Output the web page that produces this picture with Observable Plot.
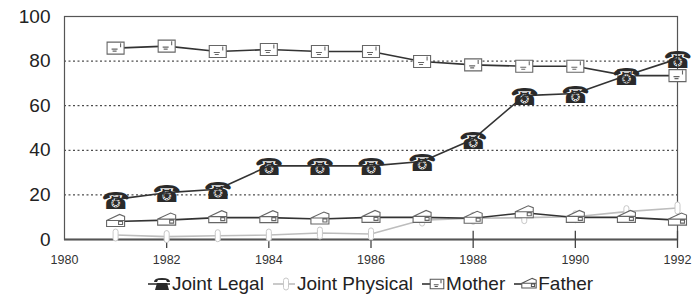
<!DOCTYPE html>
<html><head><meta charset="utf-8">
<script src="https://cdn.jsdelivr.net/npm/d3@7"></script>
<script src="https://cdn.jsdelivr.net/npm/@observablehq/plot@0.6"></script>
<style>
body{margin:0;background:#fff;font-family:"Liberation Sans",Arial,sans-serif;}
#legend{display:flex;justify-content:flex-start;gap:9px;font-size:19px;color:#222;height:27px;align-items:center;padding-left:148px;}
#legend span.it{display:flex;align-items:center;}
#legend svg{display:block;margin-right:1px;overflow:visible;}
</style></head>
<body><div id="chart"></div>
<div id="legend"></div>
<script>
const years = [1981,1982,1983,1984,1985,1986,1987,1988,1989,1990,1991,1992];
const jointLegal    = [18,21,22.5,33,33,33,35,45,64.5,65.5,73.5,81];
const jointPhysical = [2,1.3,1.7,2,2.9,2.5,8.7,9.5,9.8,10.2,12.5,14.1];
const mother        = [85.8,86.7,84.3,85.2,84.3,84.3,79.8,78.3,77.7,77.7,73.5,73.5];
const father        = [8.1,8.7,9.8,9.8,9.2,9.9,9.9,9.5,12,9.9,9.9,8.7];
const seriesNames = ["Joint Legal","Joint Physical","Mother","Father"];
const xTicks = [1980,1982,1984,1986,1988,1990,1992];
const yTicks = [0,20,40,60,80,100];
const gridTicks = [20,40,60,80];

const seriesValues = [jointLegal, jointPhysical, mother, father];
const data = seriesNames.flatMap((s,i)=>years.map((y,j)=>({series:s, year:y, value:seriesValues[i][j]})));
const lineColor = {"Joint Legal":"#333","Joint Physical":"#bdbdbd","Mother":"#333","Father":"#333"};

const capsule = {draw(ctx){ const w=2.5,h=6; ctx.moveTo(-w,-h+w); ctx.arc(0,-h+w,w,Math.PI,0); ctx.lineTo(w,h-w); ctx.arc(0,h-w,w,0,Math.PI); ctx.closePath(); }};
const box = {draw(ctx){ ctx.rect(-8.5,-6,17,12); ctx.moveTo(-4,1); ctx.lineTo(2,1); ctx.moveTo(-3,3); ctx.lineTo(1,3); ctx.moveTo(5,-5); ctx.lineTo(5,-1); }};
const fax = {draw(ctx){ ctx.moveTo(-9,-1); ctx.lineTo(4,-7); ctx.lineTo(9,-5); ctx.lineTo(9,5); ctx.lineTo(-9,5); ctx.closePath(); ctx.moveTo(-9,-1); ctx.lineTo(9,-1); ctx.rect(3,0,4,3); }};

const chart = Plot.plot({
  width:700, height:270,
  marginLeft:64, marginRight:23, marginTop:16, marginBottom:31,
  style:{fontFamily:"Liberation Sans, Arial, sans-serif", background:"#fff"},
  x:{domain:[1980,1992], ticks:xTicks, tickFormat:d=>String(d), label:null},
  y:{domain:[0,100], ticks:yTicks, label:null},
  marks:[
    Plot.ruleY(gridTicks,{stroke:"#222", strokeDasharray:"2,2.5", strokeWidth:1}),
    Plot.frame({stroke:"#555", strokeWidth:1.2}),
    Plot.ruleY([0],{stroke:"#555", strokeWidth:2}),
    Plot.ruleX(xTicks.slice(1),{y1:-4, y2:3.7, stroke:"#444", strokeWidth:1.3}),
    Plot.axisX({ticks:xTicks, tickSize:0, tickPadding:16, fontSize:12.5, tickFormat:d=>String(d), fill:"#333", label:null}),
    Plot.axisY({ticks:yTicks, tickSize:0, tickPadding:14, fontSize:19, fill:"#222", label:null}),
    Plot.line(data,{x:"year", y:"value", z:"series", stroke:d=>lineColor[d.series], strokeWidth:1.6}),
    Plot.dot(data.filter(d=>d.series==="Joint Physical"),{x:"year", y:"value", symbol:capsule, r:3, stroke:"#c8c8c8", fill:"#fff", strokeWidth:1}),
    Plot.dot(data.filter(d=>d.series==="Mother"),{x:"year", y:"value", symbol:box, r:5, stroke:"#666", fill:"#fff", strokeWidth:1.1}),
    Plot.dot(data.filter(d=>d.series==="Father"),{x:"year", y:"value", symbol:fax, r:5, stroke:"#666", fill:"#fff", strokeWidth:1.1}),
    Plot.text(data.filter(d=>d.series==="Joint Legal"),{x:"year", y:"value", text:()=>"☎", fill:"#2a2a2a", fontSize:23, fontFamily:"DejaVu Sans", dy:2})
  ]
});
document.getElementById("chart").append(chart);

const legendIcons = {
  "Joint Legal": '<g transform="translate(14,9)"><path d="M-8,-2Q-8,-6 0,-6Q8,-6 8,-2L5,-2L4,-4L-4,-4L-5,-2Z M-5,-1L5,-1L7,6L-7,6Z" fill="#2a2a2a"/></g>',
  "Joint Physical": '<rect x="10.5" y="3" width="5" height="12" rx="2.5" fill="#fff" stroke="#c8c8c8"/>',
  "Mother": '<g transform="translate(15,9) scale(0.8)"><path d="M-8.5,-6h17v12h-17z M-4,1h6 M-3,3h4 M5,-5v4" fill="#fff" stroke="#555" stroke-width="1.3"/></g>',
  "Father": '<g transform="translate(15,9) scale(0.8)"><path d="M-9,-1L4,-7L9,-5L9,5L-9,5Z M-9,-1H9 M3,0h4v3h-4z" fill="#fff" stroke="#555" stroke-width="1.3"/></g>'
};
const leg = document.getElementById("legend");
seriesNames.forEach(s=>{
  const it=document.createElement("span"); it.className="it";
  it.innerHTML = `<svg width="23" height="18"><line x1="0" x2="22" y1="9" y2="9" stroke="${lineColor[s]}" stroke-width="1.6"/>${legendIcons[s]}</svg><span>${s}</span>`;
  leg.append(it);
});
</script></body></html>
